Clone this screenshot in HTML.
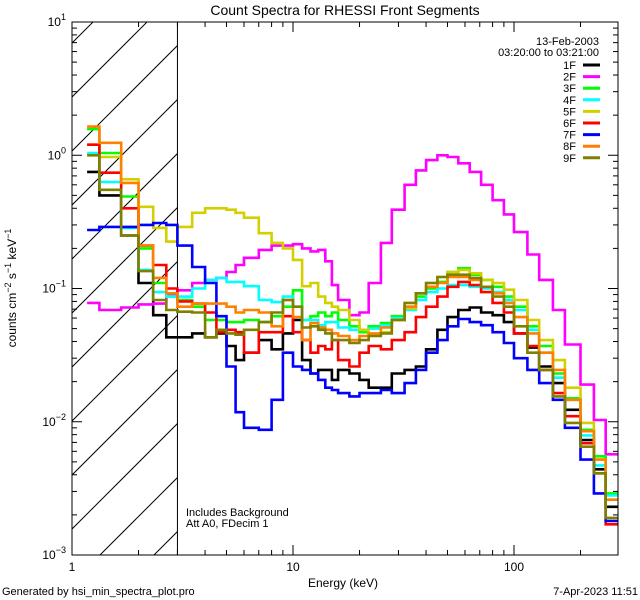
<!DOCTYPE html>
<html><head><meta charset="utf-8"><style>
html,body{margin:0;padding:0;background:#fff;}
svg{display:block;font-family:"Liberation Sans",sans-serif;}
</style></head><body>
<svg id="chart" width="640" height="600" viewBox="0 0 640 600" xmlns="http://www.w3.org/2000/svg">
<rect x="0" y="0" width="640" height="600" fill="#fff"/>
<text x="345" y="15" font-size="14" text-anchor="middle">Count Spectra for RHESSI Front Segments</text>
<text x="343" y="587" font-size="12" text-anchor="middle">Energy (keV)</text>
<text transform="translate(16,288) rotate(-90)" font-size="12" text-anchor="middle">counts cm<tspan dy="-5" font-size="9">−2</tspan><tspan dy="5"> s</tspan><tspan dy="-5" font-size="9">−1</tspan><tspan dy="5"> keV</tspan><tspan dy="-5" font-size="9">−1</tspan></text>
<text x="2" y="595" font-size="11">Generated by hsi_min_spectra_plot.pro</text>
<text x="638" y="595" font-size="11" text-anchor="end">7-Apr-2023 11:51</text>
<text x="186" y="516" font-size="11">Includes Background</text>
<text x="186" y="527" font-size="11">Att A0, FDecim 1</text>
<text x="599" y="45" font-size="11" text-anchor="end">13-Feb-2003</text>
<text x="599" y="56" font-size="11" text-anchor="end">03:20:00 to 03:21:00</text>
<g id="plot"></g>
</svg>
<script>
const energyEdges=[1.17,1.33,1.67,2,2.33,2.67,3,3.5,4,4.5,5,5.5,6,7,8,9,10,11,12,13,14,15,16,18,20,22,25,28,32,36,40,45,50,56,63,71,80,90,100,115,130,150,170,200,230,260,295];
const seriesNames=["1F","2F","3F","4F","5F","6F","7F","8F","9F"];
const seriesColors=["#000000","#ff00ff","#00ff00","#00ffff","#d4d000","#ff0000","#0000ff","#ff8000","#808000"];
const s1F=[.75,.50,.25,.11,.063,.043,.043,.046,.043,.046,.037,.029,.033,.041,.035,.046,.058,.029,.023,.0245,.0245,.0206,.0245,.023,.0206,.018,.018,.023,.0245,.026,.035,.049,.061,.069,.072,.066,.063,.056,.046,.036,.026,.0195,.0123,.0073,.0044,.0023];
const s2F=[.078,.069,.072,.076,.077,.09,.097,.11,.116,.12,.133,.15,.17,.195,.21,.21,.215,.2,.19,.195,.16,.106,.082,.063,.066,.11,.22,.39,.6,.77,.92,1.0,.97,.87,.75,.6,.46,.36,.265,.18,.116,.069,.038,.019,.0103,.0057];
const s3F=[1.57,1.04,.49,.2,.11,.087,.082,.073,.058,.058,.056,.056,.058,.056,.062,.073,.097,.058,.062,.066,.062,.066,.058,.052,.047,.052,.055,.062,.073,.087,.1,.112,.133,.142,.127,.116,.103,.087,.073,.052,.037,.023,.015,.0087,.0055,.0029];
const s4F=[1.04,.63,.285,.138,.094,.087,.087,.1,.116,.12,.112,.112,.104,.082,.079,.087,.073,.058,.058,.053,.056,.056,.051,.049,.049,.05,.053,.06,.069,.082,.094,.1,.106,.106,.103,.1,.094,.082,.069,.049,.033,.0214,.0146,.0079,.0047,.0028];
const s5F=[1.2,.97,.66,.41,.285,.225,.29,.37,.4,.4,.39,.37,.34,.26,.22,.2,.164,.104,.11,.087,.078,.073,.069,.058,.049,.045,.047,.058,.071,.092,.11,.122,.133,.138,.13,.116,.11,.098,.082,.058,.041,.029,.018,.0098,.0052,.0026];
const s6F=[1.2,.74,.4,.21,.15,.1,.08,.077,.066,.047,.049,.047,.033,.047,.047,.062,.047,.041,.033,.037,.035,.041,.029,.026,.033,.037,.035,.041,.047,.061,.073,.087,.103,.112,.106,.094,.078,.066,.046,.037,.0245,.0164,.011,.0069,.0041,.0017];
const s7F=[.275,.29,.29,.3,.31,.3,.21,.145,.11,.062,.026,.0118,.009,.0087,.0146,.033,.026,.0245,.023,.0206,.018,.0173,.0164,.0155,.0164,.0164,.0173,.0164,.0195,.0245,.033,.041,.052,.059,.056,.053,.047,.039,.03,.0245,.0195,.0146,.009,.0052,.0029,.0018];
const s8F=[1.64,1.24,.62,.21,.12,.092,.073,.077,.077,.077,.073,.066,.069,.066,.052,.082,.061,.041,.055,.051,.049,.046,.044,.041,.044,.046,.051,.058,.073,.092,.103,.11,.122,.122,.116,.103,.092,.078,.061,.046,.033,.0245,.0146,.0085,.0052,.0026];
const s9F=[1.0,.55,.25,.135,.082,.069,.067,.066,.043,.049,.046,.045,.049,.056,.066,.082,.073,.051,.052,.049,.046,.041,.041,.039,.041,.044,.046,.058,.078,.092,.11,.122,.127,.127,.12,.103,.087,.073,.052,.033,.0245,.0155,.0098,.0065,.0041,.0019];
const xTickLabels=["1","10","100"];
const yTickExps=["−3","−2","−1","0","1"];

const NS="http://www.w3.org/2000/svg";
const L=72,R=618,T=22,B=555;
const XMIN=1,XMAX=Math.pow(10,(R-L)/221);
const YMIN=1e-3,YMAX=10;
function xs(e){return L+(Math.log10(e)-Math.log10(XMIN))/(Math.log10(XMAX)-Math.log10(XMIN))*(R-L);}
function ys(v){return B-(Math.log10(v)-Math.log10(YMIN))/(Math.log10(YMAX)-Math.log10(YMIN))*(B-T);}
const plot=document.getElementById('plot');
const svg=document.getElementById('chart');
function mk(tag,attrs,parent){const el=document.createElementNS(NS,tag);for(const k in attrs)el.setAttribute(k,attrs[k]);(parent||plot).appendChild(el);return el;}

// clip
const defs=mk('defs',{},svg);
const cp=mk('clipPath',{id:'clipPlot'},defs);
mk('rect',{x:L,y:T,width:R-L,height:B-T},cp);
const ch=mk('clipPath',{id:'clipHatch'},defs);
mk('rect',{x:L,y:T,width:xs(3)-L,height:B-T},ch);

// hatch
const hatch=mk('g',{'clip-path':'url(#clipHatch)'});


for(let k=-12;k<4;k++){
  const x0=100+54*k;
  const ln=mk('line',{x1:x0,y1:B,x2:x0+600,y2:B-600,stroke:'#000','stroke-width':1},hatch);
  
  
}
const vl=mk('line',{x1:xs(3),y1:T,x2:xs(3),y2:B,stroke:'#000','stroke-width':1});



// series
const allSeries=[s1F,s2F,s3F,s4F,s5F,s6F,s7F,s8F,s9F];
const sg=mk('g',{'clip-path':'url(#clipPlot)'});


allSeries.forEach((vals,si)=>{
  let d='';
  vals.forEach((v,i)=>{
    const x1=xs(energyEdges[i]),x2=xs(energyEdges[i+1]),y=ys(v);
    d+=(i===0?'M':'L')+x1.toFixed(1)+','+y.toFixed(1)+'L'+x2.toFixed(1)+','+y.toFixed(1);
  });
  const p=mk('path',{d:d,fill:'none',stroke:seriesColors[si],'stroke-width':2.6,'stroke-linejoin':'miter'},sg);
  
  
});

// axes box
const box=mk('rect',{x:L,y:T,width:R-L,height:B-T,fill:'none',stroke:'#000','stroke-width':1});



// x ticks
for(let dec=0;dec<3;dec++){
  for(let m=1;m<10;m++){
    const e=m*Math.pow(10,dec);
    if(e<XMIN||e>XMAX)continue;
    const x=xs(e),len=m===1?10:5;
    const t1=mk('line',{x1:x,y1:B,x2:x,y2:B-len,stroke:'#000'});
    
    
    const t2=mk('line',{x1:x,y1:T,x2:x,y2:T+len,stroke:'#000'});
    
    
  }
}
xTickLabels.forEach((lab,i)=>{
  const t=mk('text',{x:xs(Math.pow(10,i)),y:B+16,'font-size':12,'text-anchor':'middle'});
  t.textContent=lab;
  
  
});
// y ticks
for(let dec=-3;dec<=1;dec++){
  for(let m=1;m<10;m++){
    const v=m*Math.pow(10,dec);
    if(v>YMAX*1.0001)continue;
    const y=ys(v),len=m===1?10:5;
    const t1=mk('line',{x1:L,y1:y,x2:L+len,y2:y,stroke:'#000'});
    
    
    const t2=mk('line',{x1:R,y1:y,x2:R-len,y2:y,stroke:'#000'});
    
    
  }
}
yTickExps.forEach((ex,i)=>{
  const y=ys(Math.pow(10,i-3));
  const t=mk('text',{x:L-6,y:y+4,'font-size':12,'text-anchor':'end'});
  
  
  const a=document.createElementNS(NS,'tspan');a.textContent='10';t.appendChild(a);
  const b=document.createElementNS(NS,'tspan');b.setAttribute('dy','-6');b.setAttribute('font-size','9');b.textContent=ex;t.appendChild(b);
});

// legend
seriesNames.forEach((n,i)=>{
  const y=65+i*11.6;
  const g=mk('g',{});
  
  
  const t=mk('text',{x:576,y:y+4,'font-size':11,'text-anchor':'end'},g);
  t.textContent=n;
  mk('line',{x1:583,y1:y,x2:600,y2:y,stroke:seriesColors[i],'stroke-width':3},g);
});
</script>
</body></html>
